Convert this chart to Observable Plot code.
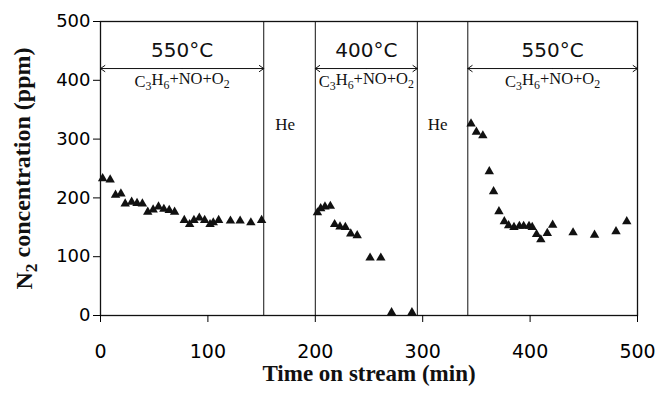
<!DOCTYPE html>
<html>
<head>
<meta charset="utf-8">
<script src="https://cdn.jsdelivr.net/npm/d3@7"></script>
<script src="https://cdn.jsdelivr.net/npm/@observablehq/plot@0.6"></script>
<style>
  html, body { margin: 0; padding: 0; background: white; }
  #chart { width: 658px; height: 394px; }
</style>
</head>
<body>
<div id="chart"></div>
<script>
// ---- data ----
const time1 = [2, 9, 14, 19, 23, 29, 34, 39, 44, 49, 54, 59, 64, 69, 78, 83, 87, 92, 97, 102, 105, 110, 121, 130, 140, 150];
const n2_1  = [233, 231, 205, 207, 190, 193, 191, 190, 176, 180, 185, 181, 179, 176, 162, 155, 162, 166, 162, 155, 158, 162, 161, 161, 158, 162];
const time2 = [202, 205, 209, 214, 218, 223, 228, 233, 239, 251, 261, 271, 290];
const n2_2  = [175, 182, 185, 186, 155, 151, 150, 139, 136, 98, 98, 5, 5];
const time3 = [345, 350, 356, 362, 366, 371, 376, 380, 385, 390, 394, 399, 402, 406, 410, 416, 421, 440, 460, 480, 490];
const n2_3  = [326, 312, 306, 245, 211, 177, 160, 153, 150, 152, 152, 152, 150, 138, 129, 140, 154, 141, 137, 143, 160];

const switchTimes = [152, 200, 295, 342];          // vertical boundaries (min)
const spanStart   = [0, 200, 342];
const spanEnd     = [152, 295, 500];
const spanTemps   = ["550°C", "400°C", "550°C"];
const gasLabel    = "C3H6+NO+O2";
const heTimes     = [172, 314];
const heLabel     = "He";
const arrowLevel  = 420;   // ppm
const heLevel     = 324;   // ppm
const xTicks = [0, 100, 200, 300, 400, 500];
const yTicks = [0, 100, 200, 300, 400, 500];
const xTitle = "Time on stream (min)";
const yTitle = "N2 concentration (ppm)";

// ---- tables built from the arrays ----
const points = [
  ...time1.map((t, i) => ({t, v: n2_1[i]})),
  ...time2.map((t, i) => ({t, v: n2_2[i]})),
  ...time3.map((t, i) => ({t, v: n2_3[i]}))
];
const spans = spanStart.map((s, i) => ({start: s, end: spanEnd[i], temp: spanTemps[i], mid: (s + spanEnd[i]) / 2}));
const halves = spans.flatMap(d => [{from: d.mid, to: d.start}, {from: d.mid, to: d.end}]);

const serif = "Liberation Serif, Times New Roman, serif";
const sans = "DejaVu Sans, Verdana, sans-serif";

const chart = Plot.plot({
  width: 658,
  height: 394,
  marginLeft: 100,
  marginRight: 21,
  marginTop: 21,
  marginBottom: 79,
  x: {domain: [0, 500]},
  y: {domain: [0, 500]},
  style: {fontFamily: sans, background: "white", color: "black", overflow: "visible"},
  marks: [
    Plot.ruleX(switchTimes, {stroke: "#111", strokeWidth: 1}),
    Plot.frame({stroke: "#111", strokeWidth: 1.3}),
    Plot.axisX({ticks: xTicks, tickSize: 7, tickPadding: 22, fontSize: 19, label: null, tickFormat: d => String(d), fontFamily: sans}),
    Plot.axisY({ticks: yTicks, tickSize: 7, tickPadding: 3, fontSize: 18, label: null, tickFormat: d => String(d), fontFamily: sans}),
    Plot.arrow(halves, {x1: "from", x2: "to", y1: () => arrowLevel, y2: () => arrowLevel, stroke: "#111", strokeWidth: 1, headLength: 8, headAngle: 70}),
    Plot.text(spans, {x: "mid", y: () => arrowLevel, text: "temp", dy: -18, fontSize: 20, fontFamily: sans, fill: "#111"}),
    Plot.text(spans, {x: "mid", y: () => arrowLevel, text: () => gasLabel, dy: 13, fontSize: 16.5, fontFamily: serif, fill: "#111"}),
    Plot.text(heTimes, {x: d => d, y: () => heLevel, text: () => heLabel, fontSize: 17, fontFamily: serif, fill: "#111"}),
    Plot.dot(points, {x: "t", y: "v", symbol: "triangle", r: 3.5, fill: "#111", stroke: "none"}),
    Plot.text([xTitle], {text: d => d, frameAnchor: "bottom", textAnchor: "middle", dy: 65, fontSize: 23, fontWeight: "bold", fontFamily: serif, fill: "#111"}),
    Plot.text([yTitle], {text: d => d, frameAnchor: "left", textAnchor: "middle", rotate: -90, dx: -76, fontSize: 24, fontWeight: "bold", fontFamily: serif, fill: "#111"})
  ]
});

// subscripts for chemical formulas (digits following a letter)
d3.select(chart).selectAll("text").each(function() {
  const s = this.textContent;
  if (s !== gasLabel && s !== yTitle) return;
  const parts = s.split(/(?<=[A-Za-z])(\d+)/);
  const el = d3.select(this);
  el.text(null);
  let lowered = false;
  parts.forEach((p, i) => {
    if (p === "") return;
    const ts = el.append("tspan").text(p);
    if (i % 2 === 1) {
      ts.attr("dy", "0.3em").attr("font-size", "72%");
      lowered = true;
    } else if (lowered) {
      ts.attr("dy", "-0.3em");
      lowered = false;
    }
  });
});

document.getElementById("chart").appendChild(chart);
</script>
</body>
</html>
